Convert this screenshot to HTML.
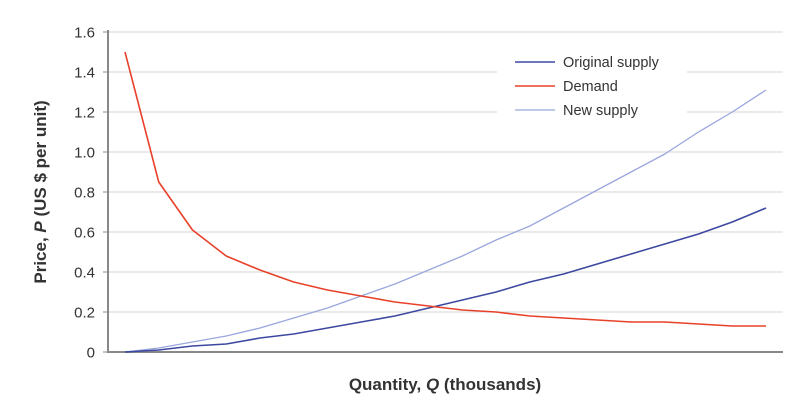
<!DOCTYPE html>
<html><head><meta charset="utf-8"><style>
body{margin:0;background:#fff;width:810px;height:415px;overflow:hidden}
svg text{font-family:"Liberation Sans",sans-serif;fill:#333}
</style></head><body>
<svg id="chart" width="810" height="415" xmlns="http://www.w3.org/2000/svg">
<g id="grid"></g><g id="lines"></g>
<rect x="497" y="40" width="190" height="86" fill="#fff"/>
<g>
<g><line x1="515" y1="62" x2="555" y2="62" stroke="#3d48a0" stroke-width="1.6"/><text x="563" y="67" font-size="14.5">Original supply</text></g>
<g><line x1="515" y1="86" x2="555" y2="86" stroke="#e8412a" stroke-width="1.6"/><text x="563" y="91" font-size="14.5">Demand</text></g>
<g><line x1="515" y1="110" x2="555" y2="110" stroke="#9aa6dd" stroke-width="1.3"/><text x="563" y="115" font-size="14.5">New supply</text></g>
</g>
<text x="445" y="390" font-size="17" font-weight="bold" text-anchor="middle">Quantity, <tspan font-style="italic">Q</tspan> (thousands)</text>
<text transform="translate(46,192) rotate(-90)" font-size="17" font-weight="bold" text-anchor="middle">Price, <tspan font-style="italic">P</tspan> (US $ per unit)</text>
</svg>
<script>
const categories=[1,2,3,4,5,6,7,8,9,10,11,12,13,14,15,16,17,18,19,20];
const demand=[1.5,0.85,0.61,0.48,0.41,0.35,0.31,0.28,0.25,0.23,0.21,0.20,0.18,0.17,0.16,0.15,0.15,0.14,0.13,0.13];
const originalSupply=[0,0.01,0.03,0.04,0.07,0.09,0.12,0.15,0.18,0.22,0.26,0.30,0.35,0.39,0.44,0.49,0.54,0.59,0.65,0.72];
const newSupply=[0,0.02,0.05,0.08,0.12,0.17,0.22,0.28,0.34,0.41,0.48,0.56,0.63,0.72,0.81,0.90,0.99,1.10,1.20,1.31];
const yTicks=[0,0.2,0.4,0.6,0.8,1.0,1.2,1.4,1.6];
const yTickLabels=["0","0.2","0.4","0.6","0.8","1.0","1.2","1.4","1.6"];
const NS="http://www.w3.org/2000/svg";
const x0=108,x1=783,y0=352,yTop=32;
function xs(i){return 125+(766-125)*i/(categories.length-1);}
function ys(v){return y0-(y0-yTop)*v/1.6;}
const grid=document.getElementById('grid'),lines=document.getElementById('lines');
yTicks.forEach((t,i)=>{
 const y=ys(t);
 const l=document.createElementNS(NS,'line');
 l.setAttribute('x1',x0);l.setAttribute('x2',x1);l.setAttribute('y1',y);l.setAttribute('y2',y);
 l.setAttribute('stroke',t===0?'#888':'#ddd');l.setAttribute('stroke-width',t===0?2:1.2);
 
 
 grid.appendChild(l);
 const tk=document.createElementNS(NS,'line');
 tk.setAttribute('x1',x0-5);tk.setAttribute('x2',x0);tk.setAttribute('y1',y);tk.setAttribute('y2',y);
 tk.setAttribute('stroke','#888');
 
 
 grid.appendChild(tk);
 const tx=document.createElementNS(NS,'text');
 tx.setAttribute('x',x0-13);tx.setAttribute('y',y+5.5);tx.setAttribute('text-anchor','end');tx.setAttribute('font-size','15');
 tx.textContent=yTickLabels[i];
 
 
 grid.appendChild(tx);
});
const ax=document.createElementNS(NS,'line');
ax.setAttribute('x1',x0);ax.setAttribute('x2',x0);ax.setAttribute('y1',yTop-2);ax.setAttribute('y2',y0+1);
ax.setAttribute('stroke','#888');ax.setAttribute('stroke-width',2);


grid.appendChild(ax);
function series(arr,color,w,name){
 const p=document.createElementNS(NS,'polyline');
 p.setAttribute('points',arr.map((v,i)=>xs(i)+','+ys(v)).join(' '));
 p.setAttribute('fill','none');p.setAttribute('stroke',color);p.setAttribute('stroke-width',w);
 p.setAttribute('stroke-linejoin','round');
 
 
 lines.appendChild(p);
}
series(newSupply,'#9aa6dd',1.3,'new-supply-line');
series(originalSupply,'#3d48a0',1.6,'original-supply-line');
series(demand,'#e8412a',1.6,'demand-line');
</script>
</body></html>
